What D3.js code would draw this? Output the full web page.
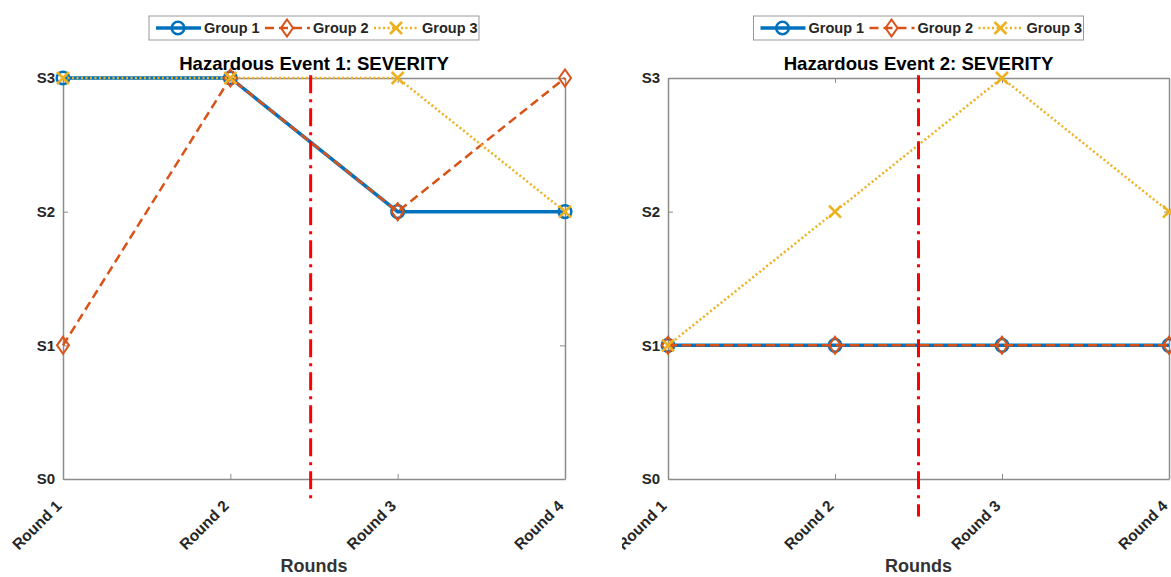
<!DOCTYPE html>
<html>
<head>
<meta charset="utf-8">
<script src="https://cdn.jsdelivr.net/npm/d3@7/dist/d3.min.js"></script>
<style>
  html, body { margin: 0; padding: 0; background: #fff; }
  svg { display: block; }
</style>
</head>
<body>
<svg id="chart" width="1171" height="577"></svg>
<script>
// Two severity panels, one per hazardous event, three groups over four rounds.

const rounds = ["Round 1", "Round 2", "Round 3", "Round 4"];
const levels = ["S0", "S1", "S2", "S3"];
const groupNames = ["Group 1", "Group 2", "Group 3"];
const titles = ["Hazardous Event 1: SEVERITY", "Hazardous Event 2: SEVERITY"];

// severity level (0..3) per round, one row per group
const event1 = [[3, 3, 2, 2], [1, 3, 2, 3], [3, 3, 3, 2]];
const event2 = [[1, 1, 1, 1], [1, 1, 1, 1], [1, 2, 3, 2]];

// vertical dash-dot marker between round 2 and round 3 (top, bottom per panel)
const splitRound = [2.48, 2.5];
const splitTop = 3.02;
const splitBottom = [-0.18, -0.28];

const W = 1171, H = 577;
const TOP = 78, BOTTOM = 479;
const FONT = "'Liberation Sans', Arial, Helvetica, sans-serif";
const AXIS_GREY = "#8c8c8c", TXT = "#262626";

const styles = [
  { color: "#0072BD", width: 3.5, dash: null, marker: "circle" },
  { color: "#D95319", width: 2.5, dash: "9,5", marker: "diamond" },
  { color: "#EDB120", width: 2.5, dash: "2,2.5", marker: "cross" },
];

const panels = [
  { data: event1, left: 63, right: 565, clipX: 0 },
  { data: event2, left: 668, right: 1169, clipX: 622 },
];

const svg = d3.select("#chart");
svg.append("rect").attr("width", W).attr("height", H).attr("fill", "#fff");

function drawMarker(g, kind, cx, cy, st) {
  if (kind === "circle") {
    g.append("circle").attr("cx", cx).attr("cy", cy).attr("r", 6.3)
      .attr("fill", "none").attr("stroke", st.color).attr("stroke-width", 2.5);
  } else if (kind === "diamond") {
    g.append("path")
      .attr("d", `M${cx},${cy - 8.5}L${cx + 6},${cy}L${cx},${cy + 8.5}L${cx - 6},${cy}Z`)
      .attr("fill", "none").attr("stroke", st.color).attr("stroke-width", 2);
  } else {
    g.append("path")
      .attr("d", `M${cx - 6},${cy - 6}L${cx + 6},${cy + 6}M${cx - 6},${cy + 6}L${cx + 6},${cy - 6}`)
      .attr("stroke", st.color).attr("stroke-width", 2.5).attr("fill", "none");
  }
}

panels.forEach((p, pi) => {
  const clipId = `clip${pi}`;
  svg.append("clipPath").attr("id", clipId).append("rect")
    .attr("x", p.clipX).attr("y", 0).attr("width", W - p.clipX).attr("height", H);
  const g = svg.append("g").attr("clip-path", `url(#${clipId})`);

  const x = d3.scaleLinear().domain([1, 4]).range([p.left, p.right]);
  const y = d3.scaleLinear().domain([0, 3]).range([BOTTOM, TOP]);
  const cx = (p.left + p.right) / 2;

  // axes box with inward ticks on all four sides
  const styleAxis = (s) => {
    s.select(".domain").attr("stroke", AXIS_GREY).attr("stroke-width", 1.5);
    s.selectAll(".tick line").attr("stroke", AXIS_GREY).attr("stroke-width", 1);
  };
  const xb = g.append("g").attr("transform", `translate(0,${BOTTOM})`)
    .call(d3.axisBottom(x).tickValues([1, 2, 3, 4]).tickFormat((d) => rounds[d - 1])
      .tickSizeInner(-5).tickSizeOuter(0))
    .call(styleAxis);
  xb.selectAll(".tick text")
    .attr("text-anchor", "end").attr("y", 0).attr("dy", 0)
    .attr("transform", "translate(-1,28) rotate(-45)")
    .style("font", `bold 15.5px ${FONT}`).style("fill", TXT);
  g.append("g").attr("transform", `translate(0,${TOP})`)
    .call(d3.axisTop(x).tickValues([1, 2, 3, 4]).tickFormat("").tickSizeInner(-5).tickSizeOuter(0))
    .call(styleAxis);
  const yl = g.append("g").attr("transform", `translate(${p.left},0)`)
    .call(d3.axisLeft(y).tickValues([0, 1, 2, 3]).tickFormat((d) => levels[d])
      .tickSizeInner(-5).tickSizeOuter(0).tickPadding(8))
    .call(styleAxis);
  yl.selectAll(".tick text").style("font", `bold 15px ${FONT}`).style("fill", TXT);
  g.append("g").attr("transform", `translate(${p.right},0)`)
    .call(d3.axisRight(y).tickValues([0, 1, 2, 3]).tickFormat("").tickSizeInner(-5).tickSizeOuter(0))
    .call(styleAxis);

  // series: lines then markers, group 3 drawn last
  const line = d3.line().x((d, i) => x(i + 1)).y((d) => y(d));
  p.data.forEach((vals, gi) => {
    const st = styles[gi];
    g.append("path").attr("d", line(vals)).attr("fill", "none")
      .attr("stroke", st.color).attr("stroke-width", st.width)
      .attr("stroke-dasharray", st.dash);
    const mg = g.append("g");
    vals.forEach((v, i) => drawMarker(mg, st.marker, x(i + 1), y(v), st));
  });

  // split line
  g.append("line")
    .attr("x1", x(splitRound[pi])).attr("x2", x(splitRound[pi]))
    .attr("y1", y(splitTop)).attr("y2", y(splitBottom[pi]))
    .attr("stroke", "#ff0000").attr("stroke-width", 3)
    .attr("stroke-dasharray", "18,6,3,6");

  // title and x label
  g.append("text").attr("x", cx).attr("y", 70).attr("text-anchor", "middle")
    .style("font", `bold 18.6px ${FONT}`).style("fill", "#000").text(titles[pi]);
  g.append("text").attr("x", cx).attr("y", 572).attr("text-anchor", "middle")
    .style("font", `bold 18px ${FONT}`).style("fill", "#333").text("Rounds");

  // legend box
  const lx = cx - 165;
  const lg = g.append("g");
  lg.append("rect").attr("x", lx).attr("y", 16).attr("width", 330).attr("height", 24)
    .attr("fill", "#fff").attr("stroke", "#999").attr("stroke-width", 1);
  groupNames.forEach((name, gi) => {
    const st = styles[gi];
    const x0 = lx + 5 + gi * 109;
    lg.append("line").attr("x1", x0 + 2).attr("x2", x0 + 47).attr("y1", 28).attr("y2", 28)
      .attr("stroke", st.color).attr("stroke-width", st.width)
      .attr("stroke-dasharray", st.dash);
    drawMarker(lg, st.marker, x0 + 24, 28, st);
    lg.append("text").attr("x", x0 + 50).attr("y", 28).attr("dy", "0.35em")
      .style("font", `bold 14.5px ${FONT}`).style("fill", TXT).text(name);
  });
});
</script>
</body>
</html>
